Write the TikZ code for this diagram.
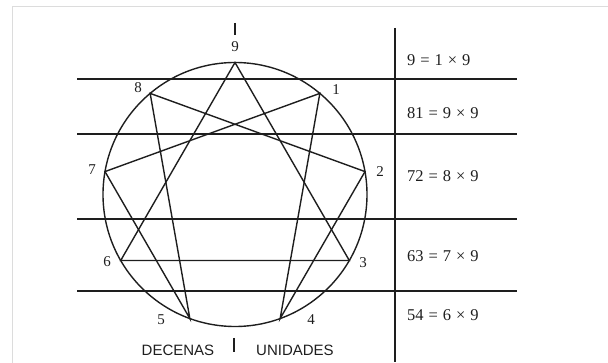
\documentclass[tikz,border=0pt]{standalone}
\usepackage{fontspec}
\setmainfont{Liberation Serif}
\setsansfont{Liberation Sans}
\newfontfamily\eqfont[WordSpace=1.2]{Liberation Serif}
\usetikzlibrary{calc}
\definecolor{ink}{HTML}{1E1E1E}
\definecolor{framegray}{HTML}{DCDCDC}
\tikzset{line width=1.1pt,
  every node/.style={text=ink,inner sep=0pt},
  rule/.style={draw=ink,line width=1.6pt},
  star/.style={draw=ink,line width=1.4pt},
  tick/.style={draw=ink,line width=1.1pt},
  numlabel/.style={font=\fontsize{15}{17}\selectfont},
  eqlabel/.style={anchor=west,font=\eqfont\fontsize{16.5}{19}\selectfont},
  caption/.style={font=\sffamily\fontsize{15}{18}\selectfont}}

\begin{document}
\begin{tikzpicture}[x=1pt,y=-1pt]
\path[use as bounding box] (0,0) rectangle (608,363);
\draw[framegray,line width=1pt] (12.5,363)--(12.5,6.5)--(608,6.5);

% table rules
\draw[rule] (77,79)--(517,79) (77,134)--(517,134) (77,219)--(517,219) (77,291)--(517,291);
\draw[rule] (395,28)--(395,362);

% enneagram
\coordinate (c) at (235,194.5);
\draw[star] (c) circle (132pt);
\foreach \k in {1,...,9} \coordinate (p\k) at ($(c)+({90-40*\k}:132pt)$);
\draw[star] (p9)--(p3)--(p6)--cycle;
\draw[star] (p1)--(p4)--(p2)--(p8)--(p5)--(p7)--cycle;

\node[numlabel] (n9) at (235,47) {9};
\node[numlabel] (n1) at (336,90) {1};
\node[numlabel] (n2) at (380,172) {2};
\node[numlabel] (n3) at (363,263) {3};
\node[numlabel] (n4) at (311,320) {4};
\node[numlabel] (n5) at (161,320) {5};
\node[numlabel] (n6) at (107,262) {6};
\node[numlabel] (n7) at (92,170) {7};
\node[numlabel] (n8) at (138,88) {8};
\draw[tick] (235,23)--(235,35);

% products of nine
\node[eqlabel] (e1) at (407,60) {9 = 1 × 9};
\node[eqlabel] (e2) at (407,113) {81 = 9 × 9};
\node[eqlabel] (e3) at (407,176) {72 = 8 × 9};
\node[eqlabel] (e4) at (407,256) {63 = 7 × 9};
\node[eqlabel] (e5) at (407,315) {54 = 6 × 9};

\node[caption] (dec) at (178,350) {DECENAS};
\node[caption] (uni) at (295,350) {UNIDADES};
\draw[tick] (234,338)--(234,352);
\end{tikzpicture}
\end{document}
